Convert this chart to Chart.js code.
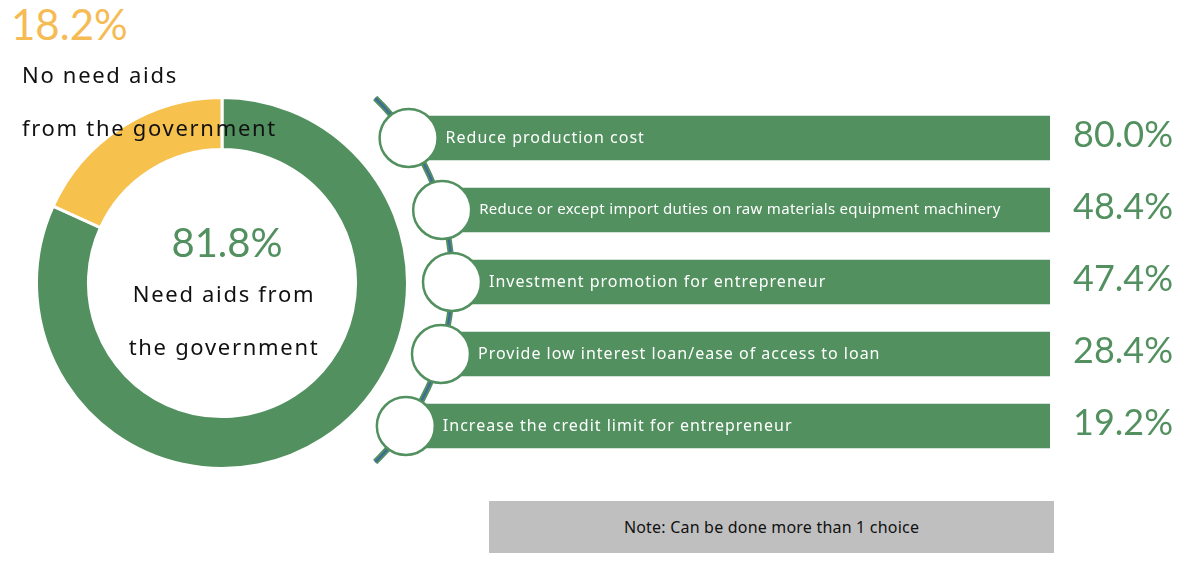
<!DOCTYPE html>
<html>
<head>
<meta charset="utf-8">
<script src="https://cdn.jsdelivr.net/npm/chart.js@4/dist/chart.umd.min.js"></script>
<style>
  body { margin:0; background:#fff; width:1184px; height:562px; position:relative; overflow:hidden; font-family:"Noto Sans", sans-serif; }
  canvas { position:absolute; }
  .lbl { position:absolute; white-space:nowrap; z-index:2; }
  #noPct { left:11px; top:2px; font:400 42px Lato, sans-serif; color:#F5BC55; line-height:44px; }
  #noTxt { left:22px; top:48px; font-size:22px; line-height:53px; letter-spacing:1.7px; color:#111; }
  #needPct { left:122px; width:210px; text-align:center; top:221px; font:400 40px Lato, sans-serif; color:#52915F; line-height:42px; }
  #needTxt { left:112px; width:224px; text-align:center; top:267px; font-size:22px; line-height:53px; letter-spacing:1.7px; color:#111; }
  #note { left:489px; top:501px; width:565px; height:52px; line-height:52px; background:#BFBFBF; text-align:center; font-size:16px; letter-spacing:0.2px; color:#111; }
</style>
</head>
<body>
<canvas id="donut" width="374" height="374" style="left:35px;top:96px"></canvas>
<canvas id="bars" width="814" height="390" style="left:370px;top:90px"></canvas>
<div class="lbl" id="noPct"></div>
<div class="lbl" id="noTxt"></div>
<div class="lbl" id="needPct"></div>
<div class="lbl" id="needTxt"></div>
<div class="lbl" id="note">Note: Can be done more than 1 choice</div>
<script>
// doughnut: need / no need aids
var groupLines = [["Need aids from", "the government"], ["No need aids", "from the government"]];
var groupShares = [81.8, 18.2];

// measures wanted (multiple choice), % of respondents
var measures = [
  "Reduce production cost",
  "Reduce or except import duties on raw materials equipment machinery",
  "Investment promotion for entrepreneur",
  "Provide low interest loan/ease of access to loan",
  "Increase the credit limit for entrepreneur"
];
var measureShares = [80.0, 48.4, 47.4, 28.4, 19.2];
var fullScale = 100; // every band is drawn full length in the original

var green = "#52915F";
var yellow = "#F6C14C";

document.getElementById("needPct").textContent = groupShares[0].toFixed(1) + "%";
document.getElementById("needTxt").innerHTML = groupLines[0].join("<br>");
document.getElementById("noPct").textContent = groupShares[1].toFixed(1) + "%";
document.getElementById("noTxt").innerHTML = groupLines[1].join("<br>");

new Chart(document.getElementById("donut"), {
  type: "doughnut",
  data: {
    labels: groupLines.map(function(l){ return l.join(" "); }),
    datasets: [{
      data: groupShares,
      backgroundColor: [green, yellow],
      borderColor: "#fff",
      borderWidth: 3
    }]
  },
  options: {
    responsive: false,
    animation: false,
    cutout: "72%",
    plugins: { legend: { display: false }, tooltip: { enabled: false } }
  }
});

// curved rail the circles sit on (canvas pixels of the bar chart)
var ARC = { cx: -172, cy: 190, r: 254, top: 8, bottom: 372 };
function arcX(y) {
  var dy = y - ARC.cy;
  return ARC.cx + Math.sqrt(ARC.r * ARC.r - dy * dy);
}
function arcAngle() {
  return Math.asin((ARC.cy - ARC.top) / ARC.r);
}

var railPlugin = {
  id: "rail",
  beforeDatasetsDraw: function(chart) {
    var ctx = chart.ctx;
    var a = arcAngle();
    ctx.save();
    ctx.beginPath();
    ctx.arc(ARC.cx, ARC.cy, ARC.r, -a, a);
    ctx.lineTo(chart.width, ARC.bottom);
    ctx.lineTo(chart.width, ARC.top);
    ctx.closePath();
    ctx.clip();
  },
  afterDatasetsDraw: function(chart) {
    var ctx = chart.ctx;
    ctx.restore();
    var a = arcAngle();
    ctx.save();
    ctx.beginPath();
    ctx.arc(ARC.cx, ARC.cy, ARC.r, -a, a);
    ctx.lineWidth = 6;
    ctx.strokeStyle = green;
    ctx.stroke();
    ctx.lineWidth = 2;
    ctx.strokeStyle = "#3F68A0";
    ctx.stroke();

    var meta = chart.getDatasetMeta(0);
    var right = chart.chartArea.right;
    meta.data.forEach(function(bar, i) {
      var x = arcX(bar.y);
      ctx.beginPath();
      ctx.arc(x, bar.y, 29, 0, 2 * Math.PI);
      ctx.fillStyle = "#fff";
      ctx.fill();
      ctx.lineWidth = 2.5;
      ctx.strokeStyle = green;
      ctx.stroke();

      var tx = x + 37;
      ctx.fillStyle = "#fff";
      ctx.textAlign = "left";
      ctx.textBaseline = "middle";
      ctx.font = "16px 'Noto Sans'";
      ctx.letterSpacing = "1px";
      if (ctx.measureText(measures[i]).width > right - tx - 40) {
        ctx.font = "15px 'Noto Sans'";
        ctx.letterSpacing = "0.3px";
      }
      ctx.fillText(measures[i], tx, bar.y);
      ctx.letterSpacing = "0px";

      ctx.fillStyle = green;
      ctx.font = "400 36px Lato";
      ctx.textAlign = "center";
      ctx.textBaseline = "alphabetic";
      ctx.fillText(measureShares[i].toFixed(1) + "%", right + 73, bar.y + 9);
    });
    ctx.restore();
  }
};

new Chart(document.getElementById("bars"), {
  type: "bar",
  data: {
    labels: measures,
    datasets: [{
      data: measures.map(function(){ return fullScale; }),
      backgroundColor: green,
      barThickness: 44
    }]
  },
  options: {
    indexAxis: "y",
    responsive: false,
    animation: false,
    layout: { padding: { top: 12, bottom: 18, left: 0, right: 134 } },
    scales: {
      x: { display: false, min: 0, max: 100 },
      y: { display: false }
    },
    plugins: { legend: { display: false }, tooltip: { enabled: false } }
  },
  plugins: [railPlugin]
});
</script>
</body>
</html>
